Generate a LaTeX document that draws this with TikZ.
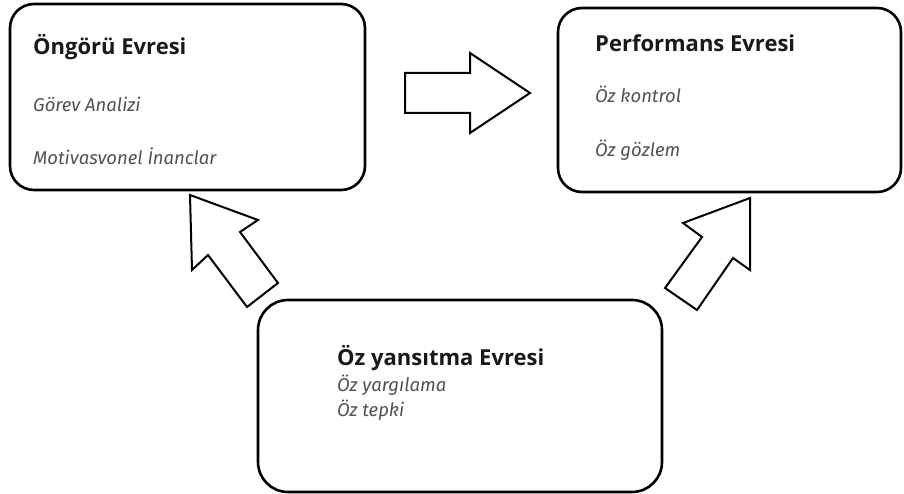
\documentclass[tikz,border=0pt]{standalone}
\usepackage{fontspec}
\setmainfont{Open Sans}
\newfontfamily\itfont{Fira Sans}
\begin{document}
\begin{tikzpicture}[x=1pt,y=-1pt,
  phase/.style={draw=black,line width=2.6pt,rounded corners=24pt,inner sep=0pt},
  blockarrow/.style={draw=black,line width=2pt,fill=white,line join=miter},
  ttl/.style={anchor=base west,inner sep=0pt,font=\fontsize{22}{26}\selectfont\bfseries,text=black!90},
  itm/.style={anchor=base west,inner sep=0pt,font=\itfont\fontsize{18.5}{22}\selectfont\itshape,text=black!68}]
\useasboundingbox (0,0) rectangle (904,494);
\fill[white] (0,0) rectangle (904,494);
% boxes
\node[phase,minimum width=355pt,minimum height=186pt] (b1) at (187.5,97) {};
\node[phase,minimum width=343pt,minimum height=184pt] (b2) at (729.5,100) {};
\node[phase,minimum width=404pt,minimum height=192pt,rounded corners=30pt] (b3) at (460,396) {};
% texts
\node[ttl] (t1) at (33,55) {Öngörü Evresi};
\node[itm] (t1a) at (33,112) {Görev Analizi};
\node[itm] (t1b) at (33,165) {Motivasvonel İnanclar};
\node[ttl] (t2) at (595,52) {Performans Evresi};
\node[itm] (t2a) at (595,103) {Öz kontrol};
\node[itm] (t2b) at (595,157) {Öz gözlem};
\node[ttl] (t3) at (337,365) {Öz yansıtma Evresi};
\node[itm] (t3a) at (337,391) {Öz yargılama};
\node[itm] (t3b) at (337,416) {Öz tepki};
% block arrows
\draw[blockarrow] (405,73) -- (470,73) -- (470,53) -- (530,93) -- (470,133) -- (470,113) -- (405,113) -- cycle;
\draw[blockarrow] (190,195) -- (258,220) -- (240,232) -- (278,283) -- (247,307) -- (208,255) -- (192,270) -- cycle;
\draw[blockarrow] (750,198) -- (750,270) -- (733,258) -- (697,310) -- (665,288) -- (702,237) -- (683,223) -- cycle;
\end{tikzpicture}
\end{document}
